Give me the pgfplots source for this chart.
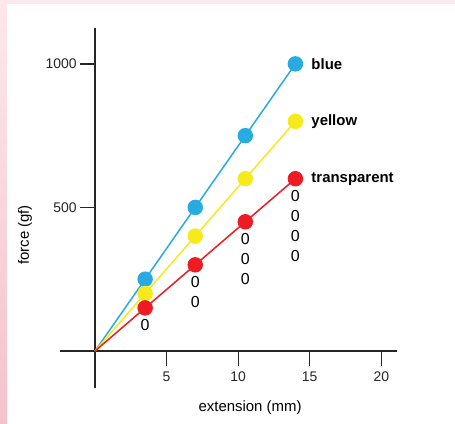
\documentclass[border=0pt]{standalone}
\usepackage{fontspec}
\setmainfont{Liberation Sans}
\usepackage{pgfplots}
\pgfplotsset{compat=1.18}

\definecolor{cblue}{HTML}{29ABE2}
\definecolor{cyellow}{HTML}{F7EA1C}
\definecolor{cred}{HTML}{ED1C24}
\definecolor{pinkT}{HTML}{FDE8EC}
\definecolor{pinkB}{HTML}{F4C2CA}

\newcommand{\ostack}[1]{\begin{tabular}{@{}c@{}}#1\end{tabular}}

\begin{document}
\begin{tikzpicture}
\shade[top color=pinkT, bottom color=pinkB] (0,0) rectangle (7bp,424bp);
\fill[pinkT] (7bp,420bp) rectangle (455bp,424bp);
\fill[white] (7bp,0) rectangle (455bp,420bp);
\begin{axis}[
    at={(60bp,36bp)}, anchor=south west,
    scale only axis, width=337bp, height=360bp,
    axis lines=middle,
    axis line style={-, line width=1.5bp, color=black!85},
    xmin=-2.45, xmax=21.1, ymin=-129, ymax=1125,
    xtick={5,10,15,20}, ytick={500,1000},
    tick align=outside, major tick length=15bp,
    tick style={line width=1.3bp, color=black!85},
    ticklabel style={font=\fontsize{14}{16}\selectfont, color=black!85},
    /pgf/number format/assume math mode=true,
    /pgf/number format/1000 sep={},
    xticklabel style={yshift=-2bp},
    xlabel={extension (mm)}, ylabel={force (gf)},
    xlabel style={at={(axis description cs:0.564,-0.055)}, anchor=center,
        font=\fontsize{15}{17}\selectfont},
    ylabel style={at={(axis description cs:-0.104,0.425)}, anchor=center,
        rotate=90, font=\fontsize{15}{17}\selectfont},
    clip=false,
    every axis plot/.append style={line width=1.5bp},
]

% blue
\addplot[cblue, mark=*, mark size=7, mark indices={2,3,4,5},
    nodes near coords, point meta=explicit symbolic,
    nodes near coords style={anchor=west, xshift=12bp, black,
        font=\bfseries\fontsize{15}{17}\selectfont}]
    coordinates {(0,0)[] (3.5,250)[] (7,500)[] (10.5,750)[] (14,1000)[blue]};

% yellow
\addplot[cyellow, mark=*, mark size=7, mark indices={2,3,4,5},
    nodes near coords, point meta=explicit symbolic,
    nodes near coords style={anchor=west, xshift=12bp, black,
        font=\bfseries\fontsize{15}{17}\selectfont}]
    coordinates {(0,0)[] (3.5,200)[] (7,400)[] (10.5,600)[] (14,800)[yellow]};

% transparent
\addplot[cred, mark=*, mark size=7, mark indices={2,3,4,5},
    nodes near coords, point meta=explicit symbolic,
    nodes near coords style={anchor=west, xshift=12bp, black,
        font=\bfseries\fontsize{15}{17}\selectfont}]
    coordinates {(0,0)[] (3.5,150)[] (7,300)[] (10.5,450)[] (14,600)[transparent]};

% stacks under the red points
\addplot[draw=none, nodes near coords, point meta=explicit symbolic,
    nodes near coords style={anchor=north, yshift=-4.5bp, black,
        font=\fontsize{16}{20}\selectfont}]
    coordinates {(3.5,150)[\ostack{0}] (7,300)[\ostack{0\\0}]
                 (10.5,450)[\ostack{0\\0\\0}] (14,600)[\ostack{0\\0\\0\\0}]};

\end{axis}
\end{tikzpicture}
\end{document}
